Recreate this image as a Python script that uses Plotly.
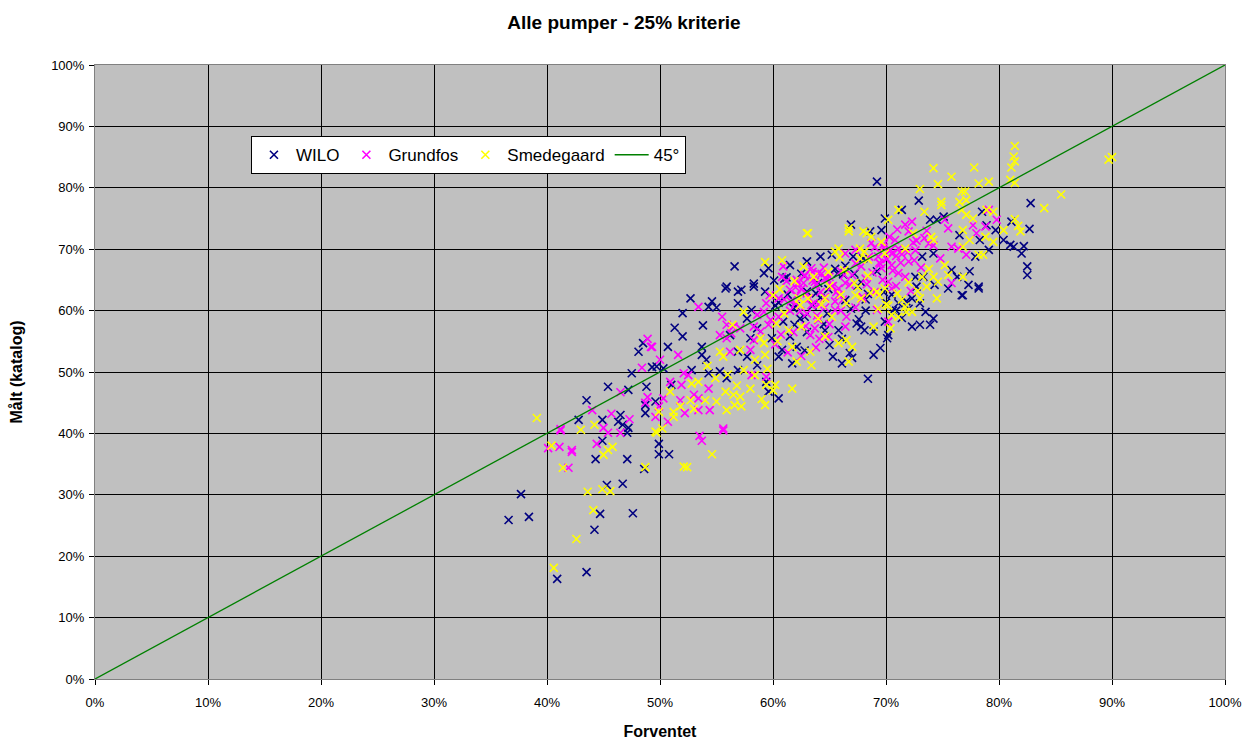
import plotly.graph_objects as go

# WILO pumps: expected efficiency (%) vs measured catalogue efficiency (%)
wilo_x = [36.6, 37.7, 38.4, 40.9, 43.5, 44.2, 44.7, 47.6, 46.7, 45.3, 44.3, 47.1, 48.6, 47.1, 44.9,
          48.1, 48.5, 47.5, 45.4, 43.5, 42.8, 47.2, 44.9, 46.5, 46.3, 46.7, 47.2, 48.8, 48.7, 48.7, 49.3,
          55.8, 56.9, 58.3, 59.3, 52.7, 54.6, 54.3, 52.0, 56.9, 51.3, 52.0, 50.7, 53.7, 53.7, 54.1,
          56.2, 58.0, 56.9, 57.7, 58.6, 59.9, 60.5, 49.7, 50.3, 52.8, 54.3, 55.3, 55.9, 56.9, 59.4,
          59.6, 60.5, 51.0, 60.9, 61.5, 62.1, 62.4, 61.8, 63.0, 49.6, 57.7, 58.6, 58.1,
          49.9, 49.9, 50.8,
          68.4, 66.1, 67.0, 68.9, 69.5, 70.1, 70.2, 65.0, 65.8, 67.4, 67.8, 68.1, 68.9, 69.9, 71.1,
          72.3, 73.0, 72.3, 73.0, 73.5, 74.2, 73.9, 75.5, 76.7, 72.7, 66.4, 64.6,
          69.2, 72.9, 71.4, 69.9, 69.6, 73.9, 74.5, 75.1, 76.5, 66.9, 68.6, 67.1, 64.2, 65.2, 74.2,
          73.2, 75.8, 76.3, 72.6, 73.3, 74.3, 63.0, 69.2, 68.0,
          82.8, 82.7, 81.1, 80.4, 81.0, 81.3, 82.2, 82.0, 82.5, 82.5, 77.4, 77.3, 78.2, 78.5, 78.9,
          79.7, 78.3, 77.9, 79.1,
          56.6, 59.2, 58.3, 55.9, 61.5, 63.0, 76.8, 78.2,
          61.0, 62.5, 64.0, 65.5, 63.8, 66.2, 67.5, 70.5, 71.8, 60.2, 64.8, 66.9, 68.2, 69.8, 70.9,
          60.5, 61.3, 62.0, 62.8, 63.5, 64.2, 64.9, 65.7, 66.4, 67.2, 67.8, 68.4, 61.9, 63.0, 64.5,
          66.1, 67.6, 68.2, 70.0, 70.6, 71.4, 72.0, 60.1, 61.2, 59.6, 57.2, 55.0, 53.8, 60.8, 61.7,
          62.8, 65.3, 66.8]
wilo_y = [25.9, 30.1, 26.4, 16.3, 17.4, 24.3, 26.9, 27.0, 31.8, 31.6, 35.8, 35.8, 34.2, 40.1, 38.8,
          53.3, 54.7, 49.8, 47.6, 45.4, 42.2, 47.1, 42.2, 43.0, 41.9, 41.4, 40.9, 47.6, 44.6, 43.3, 50.8,
          63.6, 63.1, 63.9, 63.1, 62.0, 61.5, 60.6, 59.6, 61.2, 57.2, 55.8, 54.1, 54.1, 52.8, 52.0,
          56.0, 55.5, 53.3, 52.5, 51.1, 55.5, 52.5, 50.9, 50.6, 50.3, 49.8, 50.1, 49.0, 50.3, 48.4,
          46.8, 45.7, 47.9, 58.2, 55.8, 54.1, 58.7, 60.4, 63.1, 45.2, 58.7, 57.1, 60.1,
          38.3, 36.6, 36.6,
          48.9, 51.4, 52.3, 52.8, 53.9, 55.5, 56.0, 54.4, 56.8, 57.9, 57.4, 56.8, 56.6, 58.2, 61.2,
          62.0, 61.2, 57.4, 57.7, 59.8, 58.7, 57.7, 63.6, 62.5, 63.9, 61.7, 56.8,
          81.0, 77.9, 76.4, 75.0, 73.1, 74.8, 74.8, 75.3, 72.3, 74.0, 72.9, 68.8, 68.8, 69.1, 69.3,
          68.8, 66.6, 65.5, 65.5, 65.5, 64.2, 68.0, 66.4, 68.5,
          77.5, 73.3, 74.5, 71.5, 70.7, 70.4, 70.5, 69.3, 67.2, 65.8, 66.4, 64.2, 63.9, 76.1, 73.9,
          73.1, 71.5, 68.8, 69.9,
          67.2, 66.1, 64.4, 63.9, 67.4, 68.0, 62.5, 63.6,
          65.2, 66.0, 64.5, 66.8, 62.8, 65.9, 64.0, 62.6, 61.5, 60.8, 59.5, 60.3, 61.8, 63.0, 60.0,
          61.3, 62.6, 60.7, 59.0, 60.8, 62.1, 63.5, 66.0, 67.3, 66.0, 64.6, 62.7, 57.7, 56.5, 57.8,
          55.4, 58.6, 60.0, 61.3, 60.0, 58.8, 60.3, 64.9, 65.4, 66.9, 63.4, 60.5, 57.6, 53.6, 51.4,
          53.5, 52.5, 53.1]

# Grundfos pumps
grundfos_x = [40.1, 41.1, 42.2, 42.2, 41.9, 44.4, 45.4, 46.5, 41.2,
              48.9, 49.2, 48.4, 46.5, 44.0, 45.7, 47.3, 45.0, 48.9, 48.7, 41.2,
              53.4, 55.5, 55.9, 56.5, 55.3, 56.3, 57.1, 58.3, 58.6, 59.2, 59.4, 59.7, 60.5, 61.5, 62.1,
              58.9, 59.6, 58.3, 58.0, 56.2, 55.9, 51.6, 50.0, 49.3, 52.1, 52.5, 50.9, 51.9, 53.0, 53.4,
              54.3, 50.3, 49.9, 51.8, 52.2, 53.4, 54.4, 55.6, 49.6, 50.7, 58.1, 59.4,
              53.5, 53.7, 55.6,
              63.7, 66.4, 69.2, 70.2, 63.4, 65.8, 70.5,
              72.3, 71.7, 72.0, 75.2, 75.5, 75.8, 76.4, 68.7, 70.8, 71.1, 70.4, 67.3, 66.4, 69.3, 70.5,
              67.3, 67.8, 69.6, 70.5, 72.0, 71.1, 63.4, 64.0, 64.6, 63.7, 65.2, 66.4, 70.2, 71.7, 75.8,
              79.8, 79.1, 78.8, 78.0, 77.1, 77.7,
              60.9, 60.8, 62.1, 62.7,
              61.2, 62.0, 62.8, 63.5, 64.3, 65.0, 64.6, 65.6, 66.0, 67.0, 68.5, 69.0, 69.8, 70.0, 71.4,
              72.6, 73.8, 61.6, 63.0, 64.0, 66.2, 67.9, 68.2, 69.5, 70.9, 72.4, 73.4, 62.4, 63.9, 65.5,
              62.5, 63.2, 63.8, 64.2, 64.8, 65.3, 65.8, 62.8, 63.5, 64.5, 66.3, 66.8, 62.0, 61.5, 63.0,
              64.0, 65.0, 60.5, 61.0, 62.2, 63.6, 64.6, 65.5, 66.0, 62.9, 63.3, 64.1, 61.8, 60.7, 59.8,
              60.2, 61.3, 62.5, 63.8, 64.9, 66.5, 67.3, 67.9,
              68.8, 69.4, 70.1, 70.6, 71.3, 71.9, 72.5, 73.1, 69.8, 70.3, 71.0, 72.7, 73.6, 74.2, 74.8,
              68.3, 69.0, 69.7, 70.9, 72.2]
grundfos_y = [37.6, 37.8, 37.3, 37.0, 34.4, 38.3, 40.1, 40.1, 40.5,
              55.4, 54.1, 50.7, 46.7, 43.8, 43.2, 42.3, 40.9, 45.9, 45.0, 40.7,
              60.6, 59.0, 57.7, 57.4, 56.0, 56.3, 57.1, 57.4, 59.3, 59.8, 61.2, 62.5, 62.0, 63.4, 62.5,
              56.6, 57.7, 55.2, 53.6, 53.3, 55.5, 52.8, 52.0, 54.1, 49.8, 49.5, 48.4, 47.9, 46.3, 45.7,
              47.3, 45.7, 44.4, 45.4, 43.3, 43.8, 43.8, 40.8, 42.7, 41.9, 49.5, 49.2,
              39.6, 38.8, 40.5,
              57.1, 57.4, 60.1, 58.2, 60.9, 63.6, 63.6,
              74.5, 74.0, 72.9, 74.8, 73.4, 70.4, 70.1, 71.0, 71.5, 70.1, 69.9, 69.9, 69.3, 68.8, 69.3,
              67.7, 67.2, 66.9, 67.4, 68.0, 66.1, 66.9, 66.1, 65.3, 64.7, 63.9, 64.5, 64.7, 65.5, 64.5,
              74.8, 76.4, 73.7, 72.6, 69.1, 73.9,
              67.2, 65.5, 65.0, 64.5,
              64.8, 63.8, 65.6, 64.9, 66.0, 65.5, 62.2, 63.0, 66.4, 65.8, 68.8, 70.3, 70.8, 68.4, 69.2,
              69.8, 70.9, 61.5, 62.8, 61.0, 61.8, 62.3, 65.2, 67.6, 68.9, 71.1, 71.8, 59.9, 59.2, 60.1,
              63.5, 62.0, 64.2, 63.0, 65.2, 64.0, 62.5, 65.8, 66.3, 67.0, 65.8, 64.2, 61.2, 60.0, 59.5,
              58.5, 57.8, 59.0, 61.8, 64.5, 61.2, 60.5, 61.5, 60.0, 57.5, 56.0, 55.4, 56.5, 56.1, 58.5,
              54.5, 53.2, 52.6, 54.0, 55.7, 59.0, 60.5, 62.0,
              66.2, 67.8, 68.4, 66.5, 67.8, 69.5, 68.2, 67.0, 70.3, 72.0, 73.2, 71.4, 73.0, 70.6, 68.5,
              64.3, 63.0, 65.0, 64.0, 63.2]

# Smedegaard pumps
smedegaard_x = [40.4, 41.4, 43.6, 44.1, 42.6, 40.6, 44.9, 45.6, 45.0, 45.4, 45.8, 48.7,
                39.1, 44.2, 43.0,
                57.4, 56.4, 55.3, 55.6, 57.1, 58.9, 59.2, 59.3, 57.4, 58.4, 54.9, 53.4, 52.8, 55.8, 55.0,
                54.0, 56.5, 57.1, 56.6, 57.2, 50.9, 52.7, 51.8, 51.2, 49.9, 51.2, 50.2, 49.6, 59.4, 60.2,
                61.7, 59.3, 60.3, 61.7, 62.1, 62.5, 62.4,
                49.7, 52.1, 52.4, 54.6,
                63.3, 63.4, 64.6, 65.2, 65.8, 66.5, 67.0, 66.7, 68.9, 70.4, 70.5, 71.1, 71.7, 72.3, 71.8,
                69.2, 69.9, 73.6, 74.5, 64.6, 67.3, 67.8, 64.0, 63.1,
                74.2, 75.8, 74.6, 73.0, 74.9, 74.9, 76.5, 73.4, 71.1, 70.2, 66.7, 66.7, 68.0, 68.3, 68.7,
                63.1, 74.0, 74.2, 72.4, 65.8, 65.5, 67.7, 68.1, 69.6, 71.7, 69.9, 67.7, 68.4, 73.2, 74.2,
                74.6, 75.5, 76.7,
                81.4, 81.3, 81.4, 81.1, 77.8, 89.7, 90.0, 78.2, 79.1, 81.0, 81.4, 77.0, 77.1, 85.5, 84.0,
                78.9, 79.5, 77.7, 81.4, 81.7, 81.9, 80.4, 76.8, 77.4, 78.8, 76.8, 79.5, 78.2, 78.6, 76.8,
                77.1, 76.7,
                63.0, 59.3, 60.8, 62.7,
                65.0, 66.0, 67.2, 68.6, 70.0, 71.4, 72.8, 64.3, 69.3, 73.8, 75.2, 60.6, 61.9, 66.3,
                60.0, 61.0, 62.3, 63.6, 64.9, 65.9, 66.5, 67.5, 68.4, 69.4, 70.2, 71.0, 72.0, 73.0, 60.4,
                61.4, 59.5, 58.4, 59.0, 58.0, 60.0, 56.0, 54.2, 53.0, 55.9, 56.8]
smedegaard_y = [38.0, 34.4, 30.5, 27.5, 22.8, 18.1, 30.9, 30.6, 36.5, 37.3, 37.8, 34.5,
                42.5, 41.4, 40.6,
                59.8, 57.7, 53.3, 52.5, 53.6, 55.5, 54.7, 52.8, 50.3, 49.5, 49.0, 48.4, 48.1, 46.8, 45.2,
                45.4, 46.3, 46.0, 44.6, 44.4, 46.8, 45.4, 44.4, 43.5, 43.5, 42.7, 40.8, 40.3, 47.9, 47.9,
                47.3, 44.6, 57.9, 54.1, 51.7, 57.4, 60.9,
                40.1, 34.6, 34.5, 36.6,
                53.3, 51.1, 55.8, 59.0, 54.7, 55.2, 54.1, 51.7, 57.4, 57.1, 59.3, 59.0, 60.6, 59.8, 59.8,
                63.1, 63.6, 63.9, 62.0, 62.0, 62.5, 62.0, 58.7, 62.0,
                83.2, 81.8, 80.6, 79.8, 77.7, 77.2, 77.7, 76.1, 76.4, 74.8, 73.4, 72.9, 72.9, 72.6, 72.0,
                72.6, 72.0, 71.5, 72.6, 70.1, 69.6, 70.1, 69.6, 71.2, 70.1, 69.3, 68.5, 68.3, 65.5, 65.5,
                64.7, 65.8, 79.4,
                86.8, 85.1, 84.3, 83.3, 83.3, 84.6, 85.0, 80.7, 81.0, 81.3, 80.8, 79.4, 78.0, 78.9, 76.7,
                76.4, 76.1, 75.0, 74.9, 73.8, 72.9, 73.1, 73.1, 71.5, 72.0, 70.4, 71.2, 69.1, 69.1, 65.5,
                75.6, 76.4,
                72.6, 67.9, 68.2, 67.2,
                64.0, 62.6, 64.5, 62.9, 61.0, 61.8, 63.2, 61.0, 60.3, 66.8, 67.4, 63.5, 64.8, 66.6,
                62.5, 59.5, 62.0, 65.5, 66.3, 68.7, 61.2, 63.8, 65.7, 62.5, 60.8, 62.8, 64.6, 62.0, 55.0,
                56.8, 50.5, 52.0, 45.6, 47.3, 47.0, 49.6, 51.0, 44.0, 43.8, 47.8]

# 45 degree reference line
ref_x = [0, 100]
ref_y = [0, 100]

tick_vals = list(range(0, 101, 10))
tick_text = [f"{v}%" for v in tick_vals]

FONT = "Liberation Sans, Arial"
marker_common = dict(symbol="x-thin", size=8)

fig = go.Figure()
fig.add_trace(go.Scatter(x=wilo_x, y=wilo_y, mode="markers", name="WILO",
                         marker=dict(**marker_common, color="#000080",
                                     line=dict(color="#000080", width=1.6))))
fig.add_trace(go.Scatter(x=grundfos_x, y=grundfos_y, mode="markers", name="Grundfos",
                         marker=dict(**marker_common, color="#FF00FF",
                                     line=dict(color="#FF00FF", width=1.6))))
fig.add_trace(go.Scatter(x=smedegaard_x, y=smedegaard_y, mode="markers", name="Smedegaard",
                         marker=dict(**marker_common, color="#FFFF00",
                                     line=dict(color="#FFFF00", width=1.6))))
fig.add_trace(go.Scatter(x=ref_x, y=ref_y, mode="lines", name="45°",
                         line=dict(color="#008000", width=1.3)))

axis_common = dict(
    range=[0, 100], tickmode="array", tickvals=tick_vals, ticktext=tick_text,
    showgrid=True, gridcolor="#000000", gridwidth=1,
    showline=True, linecolor="#808080", linewidth=1, mirror=True,
    ticks="outside", ticklen=5, tickcolor="#000000",
    tickfont=dict(family=FONT, size=13, color="#000000"),
    zeroline=False, fixedrange=True, automargin=False,
)

fig.update_layout(
    width=1248, height=740,
    margin=dict(l=95, r=23, t=65, b=61),
    paper_bgcolor="#FFFFFF", plot_bgcolor="#C0C0C0",
    title=dict(text="<b>Alle pumper - 25% kriterie</b>", x=0.5, xanchor="center",
               y=0.970, yanchor="middle",
               font=dict(family=FONT, size=19, color="#000000")),
    xaxis=dict(**axis_common, ticklabelstandoff=6,
               title=dict(text="<b>Forventet</b>", standoff=19,
                          font=dict(family=FONT, size=16, color="#000000"))),
    yaxis=dict(**axis_common, ticklabelstandoff=2,
               title=dict(text="<b>Målt (katalog)</b>", standoff=24,
                          font=dict(family=FONT, size=16, color="#000000"))),
    legend=dict(orientation="h", x=0.138, y=0.884, xanchor="left", yanchor="top",
                bgcolor="#FFFFFF", bordercolor="#000000", borderwidth=1,
                font=dict(family=FONT, size=17, color="#000000"),
                itemwidth=34, tracegroupgap=0),
    showlegend=True,
)

fig.write_html("out.html")
